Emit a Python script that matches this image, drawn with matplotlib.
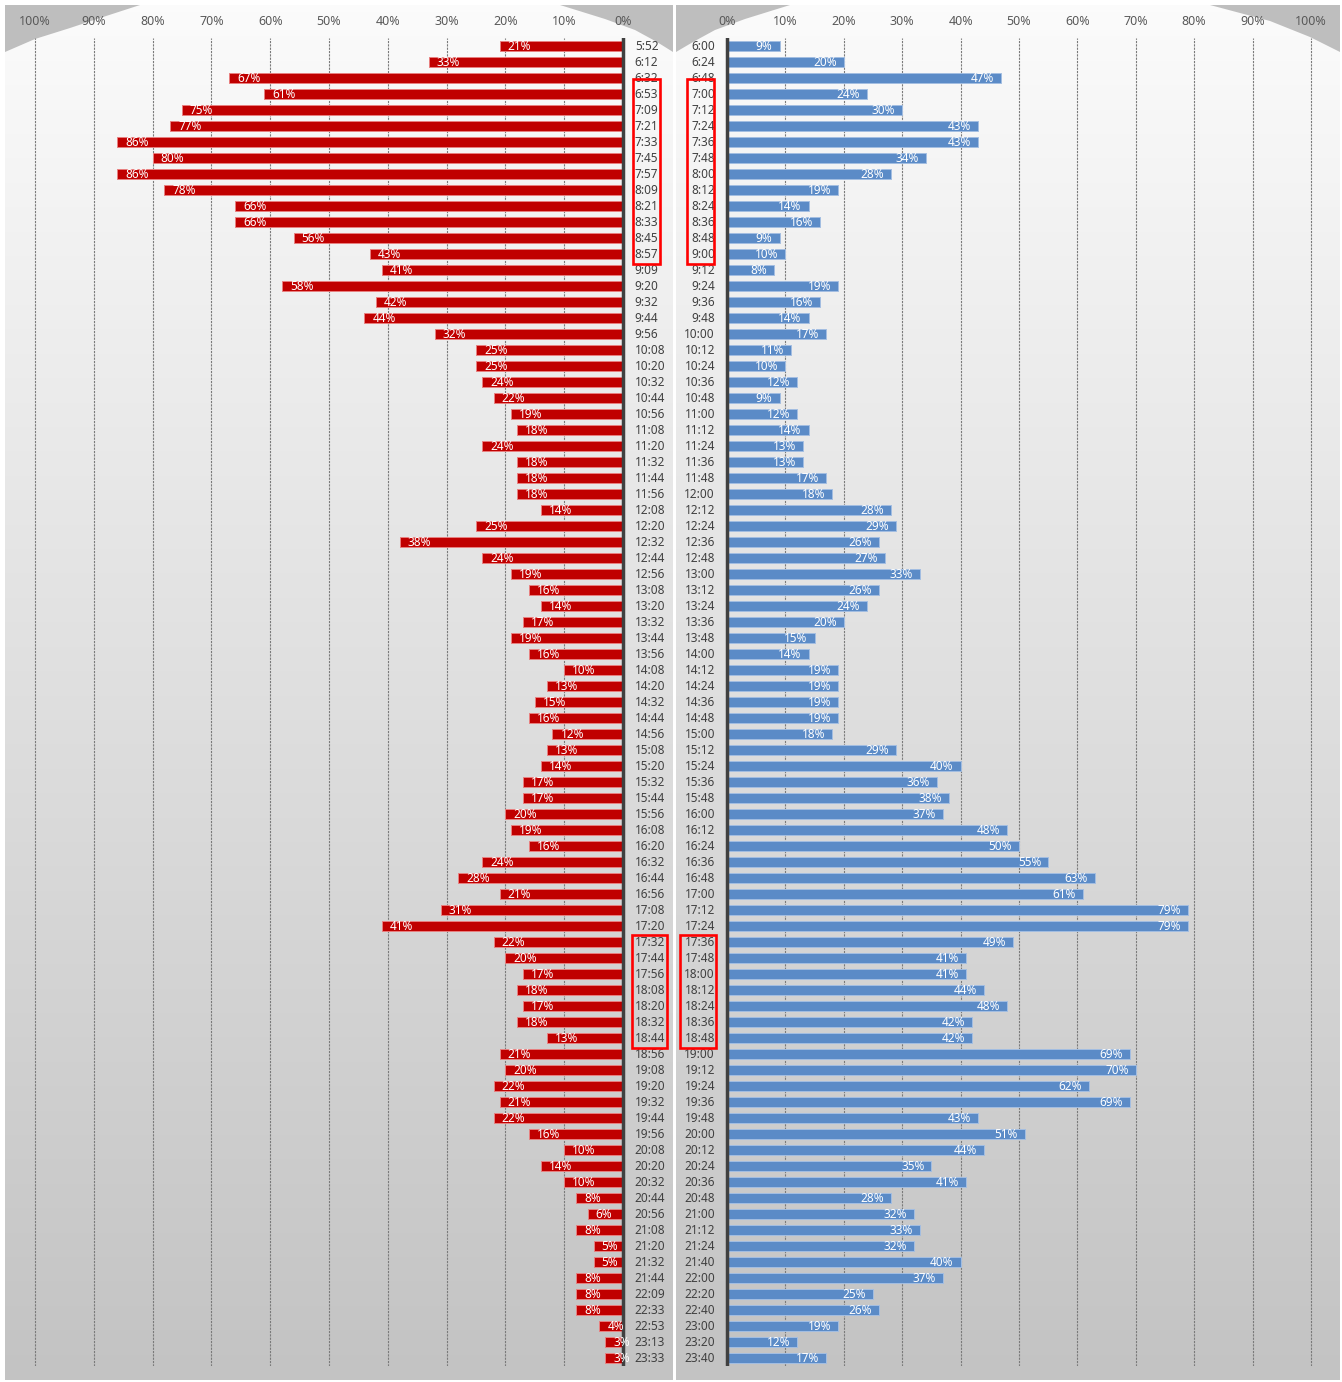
import matplotlib
matplotlib.use('Agg')
import matplotlib.pyplot as plt
import numpy as np
from matplotlib.patches import Rectangle, Polygon

# ---------------- data ----------------
left_times = ["5:52", "6:12", "6:32", "6:53", "7:09", "7:21", "7:33", "7:45", "7:57", "8:09",
              "8:21", "8:33", "8:45", "8:57", "9:09", "9:20", "9:32", "9:44", "9:56", "10:08",
              "10:20", "10:32", "10:44", "10:56", "11:08", "11:20", "11:32", "11:44", "11:56", "12:08",
              "12:20", "12:32", "12:44", "12:56", "13:08", "13:20", "13:32", "13:44", "13:56", "14:08",
              "14:20", "14:32", "14:44", "14:56", "15:08", "15:20", "15:32", "15:44", "15:56", "16:08",
              "16:20", "16:32", "16:44", "16:56", "17:08", "17:20", "17:32", "17:44", "17:56", "18:08",
              "18:20", "18:32", "18:44", "18:56", "19:08", "19:20", "19:32", "19:44", "19:56", "20:08",
              "20:20", "20:32", "20:44", "20:56", "21:08", "21:20", "21:32", "21:44", "22:09", "22:33",
              "22:53", "23:13", "23:33"]
left_values = [21, 33, 67, 61, 75, 77, 86, 80, 86, 78, 66, 66, 56, 43, 41, 58, 42, 44, 32, 25,
               25, 24, 22, 19, 18, 24, 18, 18, 18, 14, 25, 38, 24, 19, 16, 14, 17, 19, 16, 10,
               13, 15, 16, 12, 13, 14, 17, 17, 20, 19, 16, 24, 28, 21, 31, 41, 22, 20, 17, 18,
               17, 18, 13, 21, 20, 22, 21, 22, 16, 10, 14, 10, 8, 6, 8, 5, 5, 8, 8, 8,
               4, 3, 3]
right_times = ["6:00", "6:24", "6:48", "7:00", "7:12", "7:24", "7:36", "7:48", "8:00", "8:12",
               "8:24", "8:36", "8:48", "9:00", "9:12", "9:24", "9:36", "9:48", "10:00", "10:12",
               "10:24", "10:36", "10:48", "11:00", "11:12", "11:24", "11:36", "11:48", "12:00", "12:12",
               "12:24", "12:36", "12:48", "13:00", "13:12", "13:24", "13:36", "13:48", "14:00", "14:12",
               "14:24", "14:36", "14:48", "15:00", "15:12", "15:24", "15:36", "15:48", "16:00", "16:12",
               "16:24", "16:36", "16:48", "17:00", "17:12", "17:24", "17:36", "17:48", "18:00", "18:12",
               "18:24", "18:36", "18:48", "19:00", "19:12", "19:24", "19:36", "19:48", "20:00", "20:12",
               "20:24", "20:36", "20:48", "21:00", "21:12", "21:24", "21:40", "22:00", "22:20", "22:40",
               "23:00", "23:20", "23:40"]
right_values = [9, 20, 47, 24, 30, 43, 43, 34, 28, 19, 14, 16, 9, 10, 8, 19, 16, 14, 17, 11,
                10, 12, 9, 12, 14, 13, 13, 17, 18, 28, 29, 26, 27, 33, 26, 24, 20, 15, 14, 19,
                19, 19, 19, 18, 29, 40, 36, 38, 37, 48, 50, 55, 63, 61, 79, 79, 49, 41, 41, 44,
                48, 42, 42, 69, 70, 62, 69, 43, 51, 44, 35, 41, 28, 32, 33, 32, 40, 37, 25, 26,
                19, 12, 17]
tick_values = list(range(0, 101, 10))
tick_labels = [f"{v}%" for v in tick_values]

# ---------------- figure ----------------
W, H = 1342, 1382
plt.rcParams['font.family'] = ['Noto Sans', 'DejaVu Sans']
fig = plt.figure(figsize=(W / 100, H / 100), dpi=100)
fig.patch.set_facecolor('white')


def ax_px(x0, y0, x1, y1):
    return fig.add_axes([x0 / W, 1 - y1 / H, (x1 - x0) / W, (y1 - y0) / H])


# background panels
bg = ax_px(0, 0, W, H)
grad = np.linspace(0, 1, 256)[:, None, None]
top_c = np.array([0.985, 0.985, 0.985])
bot_c = np.array([0.765, 0.765, 0.765])
img = top_c + (bot_c - top_c) * grad
for (x0, x1) in [(5, 673), (676, 1340)]:
    bg.imshow(img, extent=(x0, x1, 1380, 5), aspect='auto', zorder=0, interpolation='bilinear')
corner_col = '#bebebe'
corners = [
    [(5, 5), (140, 5), (100, 18), (70, 28), (35, 39), (5, 52)],
    [(673, 5), (560, 5), (605, 19), (635, 30), (657, 42), (673, 52)],
    [(676, 5), (790, 5), (745, 19), (715, 30), (693, 42), (676, 52)],
    [(1340, 5), (1210, 5), (1270, 21), (1310, 37), (1340, 52)],
]
for pts in corners:
    bg.add_patch(Polygon(pts, closed=True, facecolor=corner_col, edgecolor='none', zorder=1))
bg.set_xlim(0, W)
bg.set_ylim(H, 0)
bg.axis('off')

n = len(left_times)
ypos = np.arange(n)

text_col = '#404040'
tick_col = '#595959'
red = '#C00000'
blue = '#5B8BC7'


def setup(ax, xlim):
    ax.set_xlim(*xlim)
    ax.set_ylim(n - 0.5, -0.5)
    ax.patch.set_alpha(0)
    for s in ax.spines.values():
        s.set_visible(False)
    ax.xaxis.tick_top()
    ax.set_xticks(tick_values)
    ax.set_xticklabels(tick_labels)
    ax.tick_params(axis='x', length=0, pad=7, labelsize=9, labelcolor=tick_col)
    ax.set_yticks([])
    for v in tick_values[1:]:
        ax.axvline(v, color='#7a7a7a', lw=0.8, ls=(0, (2, 1)), zorder=1)
    ax.axvline(0, color='#404040', lw=2.5, zorder=4)


# left panel
axL = ax_px(5, 38, 673, 1366)
setup(axL, (105.1, -8.5))
axL.barh(ypos, left_values, height=0.62, color=red, edgecolor='#E88080', linewidth=0.7, zorder=3)
for i, (t, v) in enumerate(zip(left_times, left_values)):
    axL.text(-2.0, i, t, ha='left', va='center', fontsize=8.5, color=text_col, zorder=5)
    axL.annotate(f"{v}%", (v, i), xytext=(8, -1), textcoords='offset pixels',
                 ha='left', va='center', fontsize=8.5, color='white', zorder=5)

# right panel
axR = ax_px(676, 38, 1340, 1366)
setup(axR, (-8.73, 104.97))
axR.barh(ypos, right_values, height=0.62, color=blue, edgecolor='#A3BEE2', linewidth=0.7, zorder=3)
for i, (t, v) in enumerate(zip(right_times, right_values)):
    axR.text(-2.05, i, t, ha='right', va='center', fontsize=8.5, color=text_col, zorder=5)
    axR.annotate(f"{v}%", (v, i), xytext=(-7, -1), textcoords='offset pixels',
                 ha='right', va='center', fontsize=8.5, color='white', zorder=5)

# highlight boxes
box_kw = dict(fill=False, edgecolor='#FF0000', linewidth=1.9, zorder=6, clip_on=False)
axL.add_patch(Rectangle((-1.7, 2.06), -4.59, 11.56, **box_kw))
axL.add_patch(Rectangle((-1.53, 55.56), -5.95, 7.07, **box_kw))
axR.add_patch(Rectangle((-6.85, 2.06), 4.62, 11.56, **box_kw))
axR.add_patch(Rectangle((-8.05, 55.56), 6.17, 7.07, **box_kw))

fig.savefig('out.png', dpi=100)
